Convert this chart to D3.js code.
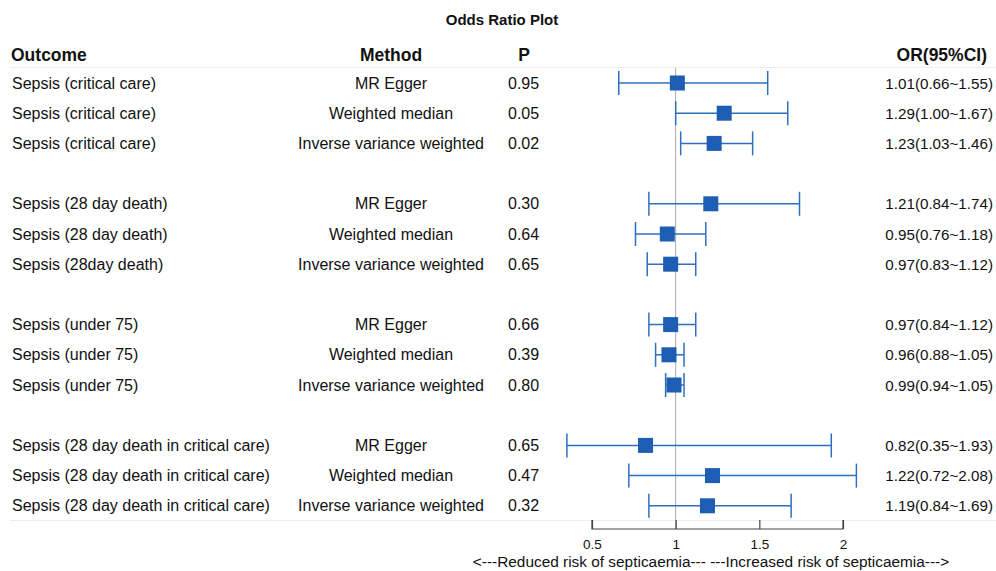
<!DOCTYPE html>
<html>
<head>
<meta charset="utf-8">
<script src="https://cdn.jsdelivr.net/npm/d3@7"></script>
<style>
  html, body { margin: 0; padding: 0; background: #fff; }
  svg { display: block; font-family: "Liberation Sans", Arial, sans-serif; }
</style>
</head>
<body>
<svg id="chart" width="996" height="571"></svg>
<script>
// Forest plot data: one entry per estimate, null rows are spacers between outcomes
const outcomes = [
  "Sepsis (critical care)", "Sepsis (critical care)", "Sepsis (critical care)", null,
  "Sepsis (28 day death)", "Sepsis (28 day death)", "Sepsis (28day death)", null,
  "Sepsis (under 75)", "Sepsis (under 75)", "Sepsis (under 75)", null,
  "Sepsis (28 day death in critical care)", "Sepsis (28 day death in critical care)", "Sepsis (28 day death in critical care)"
];
const methods = [
  "MR Egger", "Weighted median", "Inverse variance weighted", null,
  "MR Egger", "Weighted median", "Inverse variance weighted", null,
  "MR Egger", "Weighted median", "Inverse variance weighted", null,
  "MR Egger", "Weighted median", "Inverse variance weighted"
];
const pValues = ["0.95", "0.05", "0.02", null, "0.30", "0.64", "0.65", null,
                 "0.66", "0.39", "0.80", null, "0.65", "0.47", "0.32"];
const oddsRatio = [1.01, 1.29, 1.23, null, 1.21, 0.95, 0.97, null, 0.97, 0.96, 0.99, null, 0.82, 1.22, 1.19];
const ciLower   = [0.66, 1.00, 1.03, null, 0.84, 0.76, 0.83, null, 0.84, 0.88, 0.94, null, 0.35, 0.72, 0.84];
const ciUpper   = [1.55, 1.67, 1.46, null, 1.74, 1.18, 1.12, null, 1.12, 1.05, 1.05, null, 1.93, 2.08, 1.69];
const axisTicks = [0.5, 1, 1.5, 2];

const rows = outcomes.map((o, i) => ({
  outcome: o, method: methods[i], p: pValues[i],
  or: oddsRatio[i], lo: ciLower[i], hi: ciUpper[i]
}));

const svg = d3.select("#chart");
const textColor = "#111";

const x = d3.scaleLinear().domain([0.5, 2]).range([592, 843]);
const y = d3.scaleLinear().domain([0, rows.length - 1]).range([83, 505.8]);

const fmt = d3.format(".2f");

// Title
svg.append("text").attr("x", 502).attr("y", 25)
  .attr("text-anchor", "middle").attr("font-size", 15).attr("font-weight", "bold")
  .attr("fill", textColor).text("Odds Ratio Plot");

// Column headers
const headY = 61;
const head = svg.append("g").attr("font-size", 17.5).attr("font-weight", "bold").attr("fill", textColor);
head.append("text").attr("x", 11).attr("y", headY).text("Outcome");
head.append("text").attr("x", 391).attr("y", headY).attr("text-anchor", "middle").text("Method");
head.append("text").attr("x", 524).attr("y", headY).attr("text-anchor", "middle").text("P");
head.append("text").attr("x", 987).attr("y", headY).attr("text-anchor", "end").text("OR(95%CI)");

// Separator lines under header and after last row
svg.append("line").attr("x1", 10).attr("x2", 996).attr("y1", 67.5).attr("y2", 67.5)
  .attr("stroke", "#ececec").attr("stroke-width", 1);
svg.append("line").attr("x1", 10).attr("x2", 996).attr("y1", 520.5).attr("y2", 520.5)
  .attr("stroke", "#ececec").attr("stroke-width", 1);

// Reference line at OR = 1
svg.append("line").attr("x1", x(1)).attr("x2", x(1)).attr("y1", 68).attr("y2", 529)
  .attr("stroke", "#a8a8a8").attr("stroke-width", 1);

const data = rows.map((d, i) => ({ ...d, i })).filter(d => d.outcome !== null);

// Text columns
const txt = svg.append("g").attr("font-size", 16).attr("fill", textColor);
txt.selectAll(".outcome").data(data).join("text")
  .attr("x", 12).attr("y", d => y(d.i) + 5.5).text(d => d.outcome);
txt.selectAll(".method").data(data).join("text")
  .attr("x", 391).attr("y", d => y(d.i) + 5.5).attr("text-anchor", "middle").text(d => d.method);
txt.selectAll(".pval").data(data).join("text")
  .attr("x", 508).attr("y", d => y(d.i) + 5.5).text(d => d.p);
txt.selectAll(".ortext").data(data).join("text")
  .attr("x", 993).attr("y", d => y(d.i) + 5.5).attr("text-anchor", "end")
  .attr("font-size", 15.2)
  .text(d => `${fmt(d.or)}(${fmt(d.lo)}~${fmt(d.hi)})`);

// Confidence intervals
const ciColor = "#2f6fbf";
const ci = svg.append("g").attr("stroke", ciColor).attr("stroke-width", 1.5);
ci.selectAll(".bar").data(data).join("line")
  .attr("x1", d => x(d.lo)).attr("x2", d => x(d.hi))
  .attr("y1", d => y(d.i)).attr("y2", d => y(d.i));
ci.selectAll(".capL").data(data).join("line")
  .attr("x1", d => x(d.lo)).attr("x2", d => x(d.lo))
  .attr("y1", d => y(d.i) - 12).attr("y2", d => y(d.i) + 12);
ci.selectAll(".capR").data(data).join("line")
  .attr("x1", d => x(d.hi)).attr("x2", d => x(d.hi))
  .attr("y1", d => y(d.i) - 12).attr("y2", d => y(d.i) + 12);

// Point estimates
const sq = 15;
svg.append("g").selectAll("rect").data(data).join("rect")
  .attr("x", d => x(d.or) - sq / 2).attr("y", d => y(d.i) - sq / 2)
  .attr("width", sq).attr("height", sq).attr("fill", "#1d5db3");

// X axis with ticks pointing up
const axisY = 529;
const axis = svg.append("g").attr("transform", `translate(0,${axisY})`)
  .call(d3.axisTop(x).tickValues(axisTicks).tickSize(9).tickFormat(d3.format("")));
axis.select(".domain").attr("stroke", "#444").attr("stroke-width", 1.2)
  .attr("d", `M${x(0.5)},-9V0H${x(2)}V-9`);
axis.selectAll(".tick line").attr("stroke", "#444").attr("stroke-width", 1.2);
axis.selectAll(".tick text").attr("y", 20).attr("dy", 0).attr("font-size", 13.5)
  .attr("fill", textColor).attr("font-family", "Liberation Sans, Arial, sans-serif");

svg.append("text").attr("x", 711).attr("y", 567).attr("text-anchor", "middle")
  .attr("font-size", 15.4).attr("fill", textColor)
  .text("<---Reduced risk of septicaemia--- ---Increased risk of septicaemia--->");
</script>
</body>
</html>
